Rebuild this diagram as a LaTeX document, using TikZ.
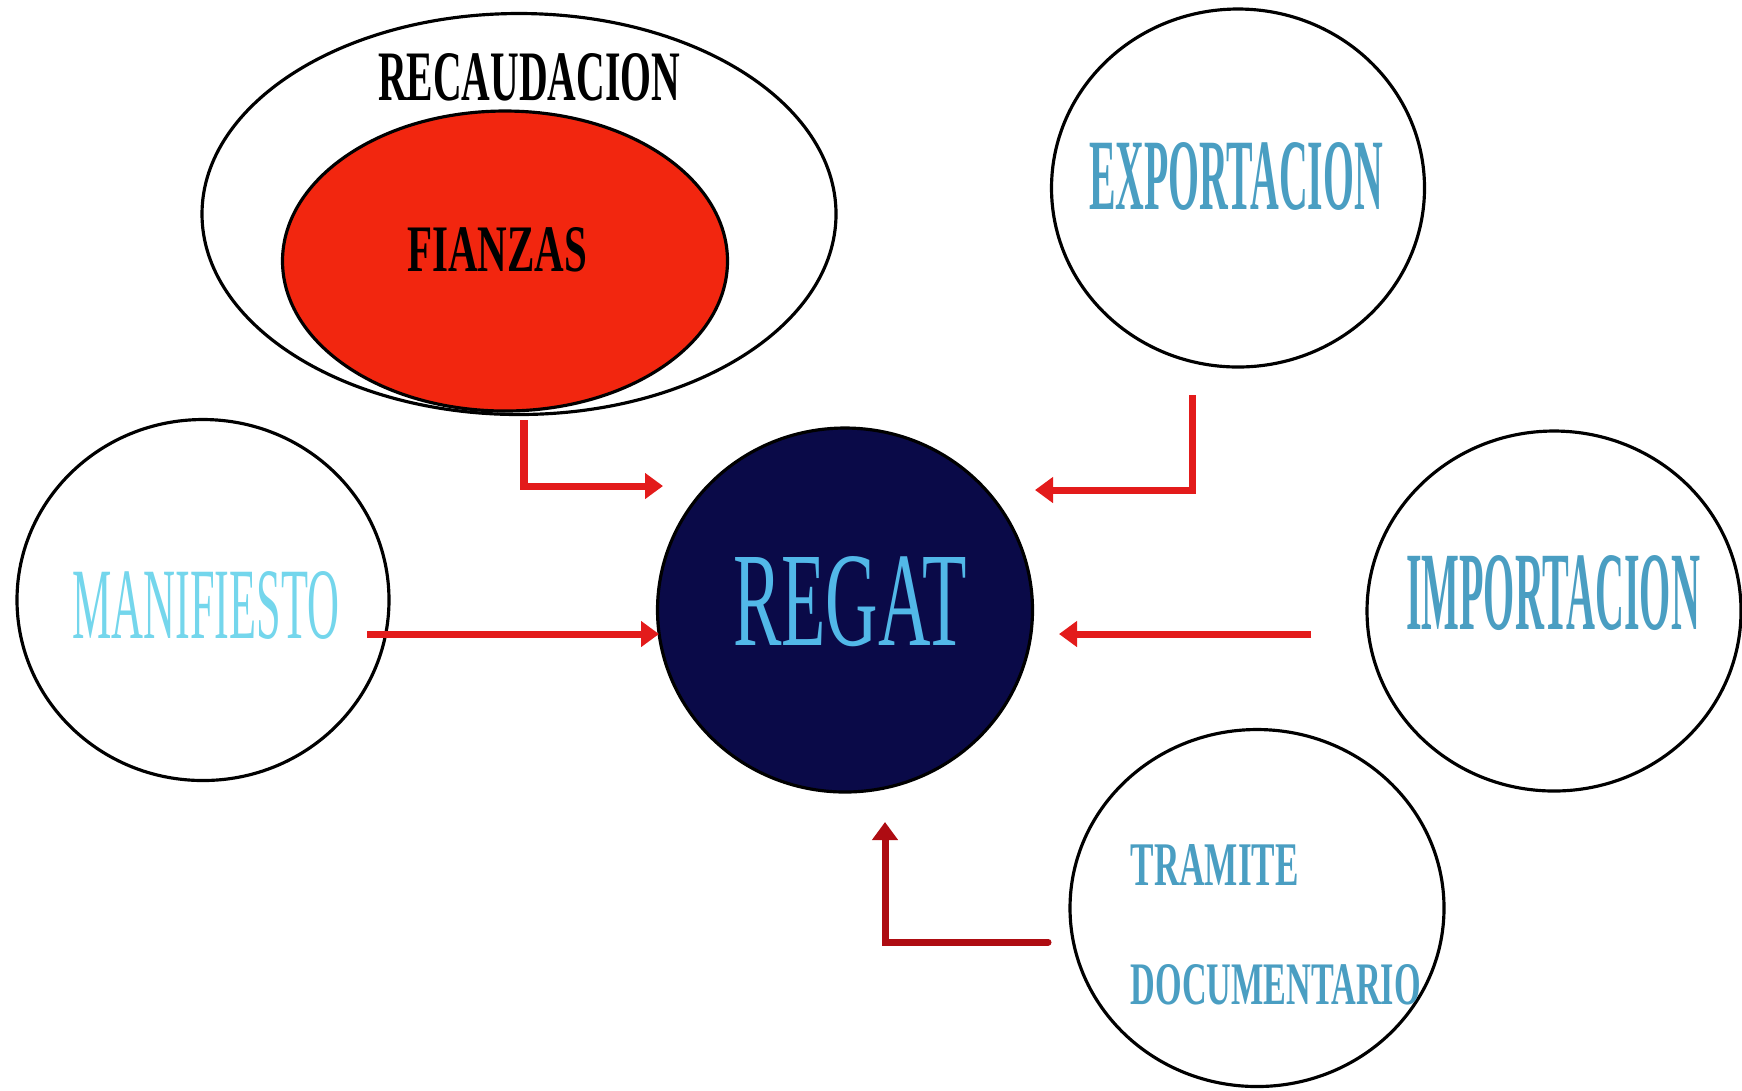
\documentclass[tikz,border=0pt]{standalone}
\usepackage{fontspec}
\usepackage{graphicx}
\setmainfont{Liberation Serif}
\usetikzlibrary{shapes.geometric,arrows.meta}

\definecolor{flecha}{HTML}{E31B1B}
\definecolor{flechaosc}{HTML}{AE0C12}
\definecolor{rojofz}{HTML}{F2260F}
\definecolor{marino}{HTML}{0A0A48}
\definecolor{azulreg}{HTML}{52B8E8}
\definecolor{azulmod}{HTML}{4A9EC2}
\definecolor{celeste}{HTML}{74D6EC}

\begin{document}
\begin{tikzpicture}[
	modulo/.style={ellipse, draw=black, line width=0.9pt, inner sep=0pt},
	flechaconex/.style={draw=flecha, line width=2pt, -{Triangle[width=0.25cm,length=0.18cm]}},
	]
	\useasboundingbox (0,0) rectangle (17.42,-10.90);

	% recaudacion con fianzas dentro
	\node[modulo, minimum width=6.34cm, minimum height=4.01cm] (recaud) at (5.19,-2.14) {};
	\node[modulo, fill=rojofz, minimum width=4.45cm, minimum height=3.00cm] (fianzas) at (5.05,-2.61) {};
	\node (recaud-t) at (5.29,-0.77) {\resizebox{3.02cm}{0.47cm}{\bfseries RECAUDACION}};
	\node (fianzas-t) at (4.97,-2.50) {\resizebox{1.80cm}{0.44cm}{\bfseries FIANZAS}};

	% modulos
	\node[modulo, minimum width=3.73cm, minimum height=3.58cm] (export) at (12.38,-1.88) {};
	\node[modulo, minimum width=3.72cm, minimum height=3.61cm] (manif) at (2.03,-6.00) {};
	\node[modulo, fill=marino, minimum width=3.75cm, minimum height=3.64cm] (regat) at (8.45,-6.10) {};
	\node[modulo, minimum width=3.74cm, minimum height=3.60cm] (import) at (15.54,-6.11) {};
	\node[modulo, minimum width=3.74cm, minimum height=3.57cm] (tramite) at (12.57,-9.08) {};

	\node[text=azulmod] (export-t) at (12.36,-1.76) {\resizebox{2.94cm}{0.67cm}{\bfseries EXPORTACION}};
	\node[text=celeste] (manif-t) at (2.06,-6.05) {\resizebox{2.67cm}{0.67cm}{MANIFIESTO}};
	\node[text=azulreg] (regat-t) at (8.50,-6.02) {\resizebox{2.34cm}{0.89cm}{REGAT}};
	\node[text=azulmod] (import-t) at (15.53,-5.93) {\resizebox{2.94cm}{0.74cm}{\bfseries IMPORTACION}};
	\node[text=azulmod, anchor=west, inner sep=0pt] (tramite-t) at (11.30,-8.65) {\resizebox{1.68cm}{0.41cm}{\bfseries TRAMITE}};
	\node[text=azulmod, anchor=west, inner sep=0pt] (docum-t) at (11.30,-9.85) {\resizebox{2.90cm}{0.40cm}{\bfseries DOCUMENTARIO}};

	% puntos de las flechas
	\coordinate (f1a) at (5.24,-4.20);
	\coordinate (f1b) at (6.63,-4.86);
	\coordinate (f2a) at (11.92,-3.95);
	\coordinate (f2b) at (10.35,-4.90);
	\coordinate (f3a) at (3.67,-6.34);
	\coordinate (f3b) at (6.59,-6.34);
	\coordinate (f4a) at (13.11,-6.34);
	\coordinate (f4b) at (10.59,-6.34);
	\coordinate (f5a) at (10.48,-9.42);
	\coordinate (f5b) at (8.85,-8.22);

	\draw[flechaconex] (f1a) |- (f1b); % de fianzas a regat
	\draw[flechaconex] (f2a) |- (f2b); % de exportacion a regat
	\draw[flechaconex] (f3a) -- (f3b); % de manifiesto a regat
	\draw[flechaconex] (f4a) -- (f4b); % de importacion a regat
	\draw[flechaconex, draw=flechaosc, line cap=round] (f5a) -| (f5b); % de tramite a regat
\end{tikzpicture}
\end{document}
